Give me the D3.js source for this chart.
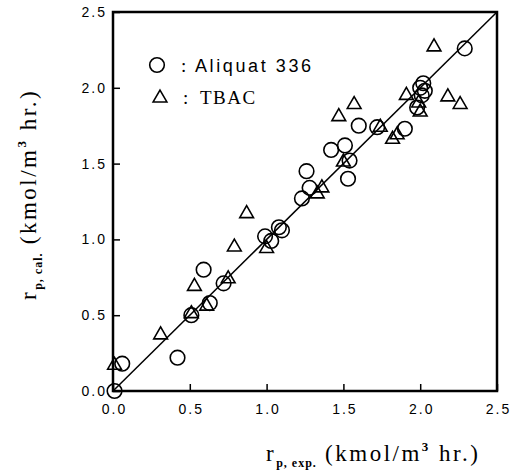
<!DOCTYPE html>
<html><head><meta charset="utf-8">
<script src="https://cdn.jsdelivr.net/npm/d3@7"></script>
<style>body{margin:0;background:#fff}</style>
</head><body><svg id="c" width="520" height="473"></svg>
<script>
const aliquatX = [0.01,0.06,0.42,0.51,0.59,0.63,0.72,0.99,1.03,1.08,1.10,1.23,1.26,1.28,1.42,1.51,1.53,1.54,1.60,1.72,1.90,1.98,2.00,2.02,2.03,2.01,2.29];
const aliquatY = [0.00,0.18,0.22,0.50,0.80,0.58,0.71,1.02,0.99,1.08,1.06,1.27,1.45,1.34,1.59,1.62,1.40,1.52,1.75,1.74,1.73,1.87,2.00,2.03,1.98,1.95,2.26];
const tbacX = [0.01,0.31,0.51,0.53,0.61,0.75,0.79,0.87,1.00,1.33,1.36,1.47,1.50,1.57,1.74,1.82,1.85,1.91,2.00,2.09,2.18,2.26,1.99];
const tbacY = [0.17,0.37,0.51,0.69,0.56,0.74,0.95,1.17,0.94,1.30,1.34,1.81,1.51,1.89,1.74,1.66,1.69,1.95,1.84,2.27,1.94,1.89,1.90];
const ticks = [0,0.5,1.0,1.5,2.0,2.5];
const tickLabels = ["0.0","0.5","1.0","1.5","2.0","2.5"];
const legendLabels = ["Aliquat 336","TBAC"];

const svg = d3.select("#c");
const x = d3.scaleLinear().domain([0,2.5]).range([113,497]);
const y = d3.scaleLinear().domain([0,2.5]).range([391,12]);

svg.append("line").attr("x1",x(0)).attr("y1",y(0)).attr("x2",x(2.5)).attr("y2",y(2.5))
  .attr("stroke","#000").attr("stroke-width",1.5);

const fmt = d => tickLabels[ticks.indexOf(d)];
const gx = svg.append("g").attr("transform",`translate(0,${y(0)})`)
  .call(d3.axisBottom(x).tickValues(ticks).tickFormat(fmt).tickSizeInner(-7).tickSizeOuter(0).tickPadding(13));
const gy = svg.append("g").attr("transform",`translate(${x(0)},0)`)
  .call(d3.axisLeft(y).tickValues(ticks).tickFormat(fmt).tickSizeInner(-7).tickSizeOuter(0).tickPadding(6));
[gx,gy].forEach(g=>{
  g.select(".domain").remove();
  g.selectAll("line").attr("stroke","#000").attr("stroke-width",1.5);
  g.selectAll("text").attr("font-family","Liberation Sans, Arial, sans-serif").attr("font-size",14).attr("letter-spacing",2).attr("fill","#000");
});
gx.selectAll("text").attr("dx",1);
svg.append("rect").attr("x",x(0)).attr("y",y(2.5)).attr("width",x(2.5)-x(0)).attr("height",y(0)-y(2.5))
  .attr("fill","none").attr("stroke","#000").attr("stroke-width",2.5);

const circ = d3.symbol().type(d3.symbolCircle).size(Math.PI*7.3*7.3);
const tri = d3.symbol().type(d3.symbolTriangle).size(82);
svg.append("g").selectAll("path").data(aliquatX.map((v,i)=>[v,aliquatY[i]])).join("path")
  .attr("d",circ).attr("transform",d=>`translate(${x(d[0])},${y(d[1])})`)
  .attr("fill","none").attr("stroke","#000").attr("stroke-width",1.6);
svg.append("g").selectAll("path").data(tbacX.map((v,i)=>[v,tbacY[i]])).join("path")
  .attr("d",tri).attr("transform",d=>`translate(${x(d[0])},${y(d[1])})`)
  .attr("fill","none").attr("stroke","#000").attr("stroke-width",1.6);

// legend
svg.append("path").attr("d",circ).attr("transform","translate(157,65)").attr("fill","none").attr("stroke","#000").attr("stroke-width",1.6);
svg.append("path").attr("d",tri).attr("transform","translate(160,98)").attr("fill","none").attr("stroke","#000").attr("stroke-width",1.6);
svg.append("text").attr("x",181).attr("y",72).attr("font-family","Liberation Serif, serif").attr("font-size",19).text(":");
svg.append("text").attr("x",183).attr("y",104).attr("font-family","Liberation Serif, serif").attr("font-size",19).text(":");
svg.append("text").attr("x",195).attr("y",72).attr("font-family","Liberation Sans, Arial, sans-serif").attr("font-size",18).attr("letter-spacing",2.6).text(legendLabels[0]);
svg.append("text").attr("x",200).attr("y",104).attr("font-family","Liberation Serif, serif").attr("font-size",19).attr("letter-spacing",1.5).text(legendLabels[1]);

function title(t, sub){
  t.attr("font-family","Liberation Serif, serif").attr("font-size",23).attr("letter-spacing",2.5).attr("fill","#000");
  t.append("tspan").text("r");
  t.append("tspan").attr("dy",6).attr("font-size",12).attr("font-weight","bold").attr("letter-spacing",1).text(sub);
  t.append("tspan").attr("dy",-6).text(" (kmol/m");
  t.append("tspan").attr("dy",-10).attr("font-size",13).attr("font-weight","bold").text("3");
  t.append("tspan").attr("dy",10).text(" hr.)");
}
title(svg.append("text").attr("x",266).attr("y",461), "p, exp.");
title(svg.append("text").attr("transform","translate(36,300) rotate(-90)"), "p, cal.");
</script></body></html>
